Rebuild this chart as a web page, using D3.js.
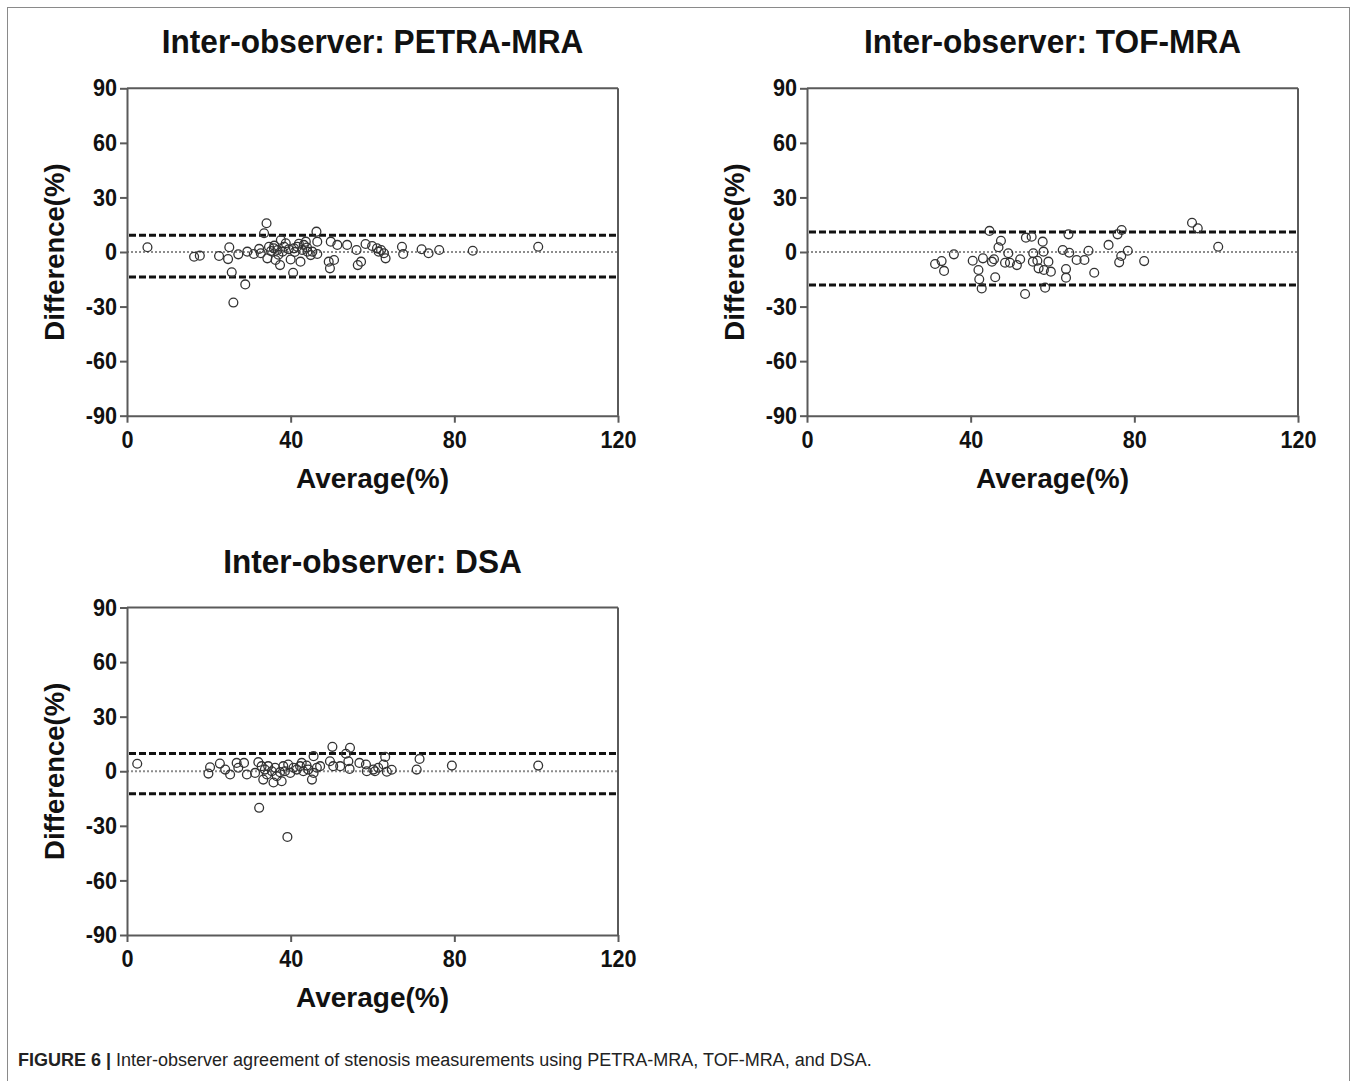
<!DOCTYPE html>
<html>
<head>
<meta charset="utf-8">
<script src="https://cdn.jsdelivr.net/npm/d3@7"></script>
<style>
  html,body{margin:0;padding:0;background:#fff;}
  svg{display:block;}
</style>
</head>
<body>
<svg id="chart" width="1357" height="1081"></svg>
<script>
// ---------------- DATA ----------------
const panelTitles = ["Inter-observer: PETRA-MRA", "Inter-observer: TOF-MRA", "Inter-observer: DSA"];
const xTicks = [0, 40, 80, 120];
const yTicks = [-90, -60, -30, 0, 30, 60, 90];
const xLabel = "Average(%)";
const yLabel = "Difference(%)";
const caption = ["FIGURE 6 |", " Inter-observer agreement of stenosis measurements using PETRA-MRA, TOF-MRA, and DSA."];

// limits of agreement (upper, lower) per panel
const biasUpper = [9.2, 11.0, 9.8];
const biasLower = [-13.8, -18.2, -12.3];

// [average, difference]
const petra = [
  [5.0,2.6],[16.4,-2.6],[17.8,-2.0],[22.5,-2.2],[25,2.6],[24.7,-3.9],[25.6,-11.2],[26,-27.8],
  [27.2,-1.3],[28.9,-17.8],[29.4,0.2],[31,-1.1],[32.3,1.7],[32.7,-0.7],[33.5,10.3],[34.1,15.8],
  [34.3,-3.5],[34.7,2.9],[35.2,0.5],[35.9,2.0],[36,3.5],[36.3,-4.4],[36.8,1.1],[37,-1.5],[37.4,-7.2],
  [37.6,6.6],[38,0.2],[38.4,2.9],[38.8,4.8],[39.5,1.5],[40,-4.1],[40.6,-11.4],[40.8,2.0],[41,0],
  [41.6,2.9],[42,4.5],[42.4,-5.3],[42.8,1.1],[43.2,3.9],[43.7,5.7],[44,2.5],[44.1,0.2],[44.9,-1.7],
  [45.3,0.2],[46.3,11.2],[46.5,5.7],[46.5,-1.1],[49.8,5.7],[49.3,-5.3],[49.6,-9.0],[50.6,-4.4],
  [51.4,3.9],[53.8,3.9],[56.1,1.1],[56.4,-7.2],[57.2,-5.3],[58.3,4.4],[59.9,3.3],[61.1,2.0],
  [61.5,0.2],[62.1,1.1],[62.8,-0.7],[63.2,-3.5],[67.2,2.9],[67.5,-1.1],[72,1.5],[73.7,-0.7],
  [76.3,1.1],[84.5,0.7],[100.5,2.9]
];
const tof = [
  [31.3,-6.6],[32.9,-5.0],[33.5,-10.4],[35.9,-1.3],[40.5,-4.8],[41.9,-9.9],[42.1,-15.0],[42.7,-20],
  [43,-3.5],[44.6,11.6],[45.2,-5.3],[45.7,-4.0],[46,-13.9],[46.8,2.6],[47.4,6.2],[48.4,-5.9],
  [49.2,-0.7],[49.6,-5.9],[51.3,-7.2],[52.1,-4.0],[53.3,-23.1],[53.5,7.9],[54.9,8.4],[55.2,-5.3],
  [55.3,-0.7],[56.3,-4.8],[56.6,-9.0],[57.6,5.7],[57.8,0.2],[57.9,-9.9],[58.2,-19.6],[59,-5.3],
  [59.6,-10.8],[62.5,1.1],[63.9,9.7],[64.1,-0.4],[63.3,-9.4],[63.3,-14.1],[65.9,-4.4],[67.8,-4.4],
  [68.8,0.7],[70.2,-11.4],[73.7,3.9],[75.9,9.7],[76.9,12.1],[76.3,-5.7],[76.8,-2.2],[78.4,0.7],
  [82.4,-5.0],[94.1,16.1],[95.5,13.0],[100.5,2.9]
];
const dsa = [
  [2.5,4.1],[19.9,-1.3],[20.3,2.2],[22.7,4.2],[24,0.9],[25.2,-1.8],[26.8,4.6],[27.2,1.9],[28.6,4.6],
  [29.3,-1.8],[31.3,-0.9],[32.1,5.0],[32.3,-20.1],[32.9,2.8],[33.3,-4.6],[33.7,0.9],[34.2,-1.8],
  [34.5,2.8],[35.4,0],[35.8,-6.2],[36.2,1.9],[36.6,-2.7],[37.4,-0.5],[37.8,-5.5],[38.2,2.8],[38.6,0],
  [39.2,-36.1],[39.4,3.7],[39.9,-0.9],[40.7,1.9],[41.5,0.9],[42.3,2.8],[42.7,4.6],[43.1,0],[43.9,3.1],
  [44.3,0.9],[45.2,-4.6],[45.6,8.3],[45.6,-0.9],[46.4,1.9],[47.2,2.8],[49.6,5.5],[50.2,13.4],
  [50.4,2.8],[52.1,2.8],[53.5,9.6],[54.1,5.5],[54.5,12.9],[54.4,1.3],[56.8,4.6],[58.4,3.7],[58.6,0],
  [60.2,0.9],[60.6,0],[61.4,1.9],[62.7,3.7],[63.1,7.9],[63.5,-0.3],[64.7,0.8],[70.8,0.9],[71.5,6.8],
  [79.4,3.1],[100.5,3.1]
];
const panelData = [petra, tof, dsa];

// ---------------- LAYOUT ----------------
const layout = [
  {x0:127, x1:618, y0:88.3, y1:415.7},
  {x0:807, x1:1298, y0:88.3, y1:415.7},
  {x0:127, x1:618, y0:607.5, y1:935}
];

const svg = d3.select("#chart");
const FONT = "'Liberation Sans', Arial, sans-serif";
const axisColor = "#5a5a5a";

// outer frame
svg.append("rect").attr("x",7.5).attr("y",7.5).attr("width",1342).attr("height",1090)
  .attr("fill","none").attr("stroke","#8a8a8a").attr("stroke-width",1);

panelTitles.forEach((title, i) => {
  const L = layout[i];
  const x = d3.scaleLinear().domain([0,120]).range([L.x0, L.x1]);
  const y = d3.scaleLinear().domain([-90,90]).range([L.y1, L.y0]);
  const g = svg.append("g");
  const cx = (L.x0+L.x1)/2;

  // title (slightly condensed, like the original)
  g.append("text").attr("transform",`translate(${cx},${L.y0-35}) scale(0.93,1)`)
    .attr("text-anchor","middle").attr("font-family",FONT).attr("font-weight","bold")
    .attr("font-size",34).attr("fill","#111").text(title);

  // zero line
  g.append("line").attr("x1",x(0)).attr("x2",x(120)).attr("y1",y(0)).attr("y2",y(0))
    .attr("stroke","#8c8c8c").attr("stroke-width",2).attr("stroke-dasharray","2,2");

  // limits of agreement
  [biasUpper[i], biasLower[i]].forEach(v => {
    g.append("line").attr("x1",x(0)+2).attr("x2",x(120)).attr("y1",y(v)).attr("y2",y(v))
      .attr("stroke","#111").attr("stroke-width",3).attr("stroke-dasharray","7,3");
  });

  // points
  g.append("g").selectAll("circle").data(panelData[i]).join("circle")
    .attr("cx",d=>x(d[0])).attr("cy",d=>y(d[1])).attr("r",4.4)
    .attr("fill","none").attr("stroke","#333").attr("stroke-width",1.3);

  // frame top/right
  g.append("line").attr("x1",x(0)).attr("x2",x(120)).attr("y1",y(90)).attr("y2",y(90))
    .attr("stroke",axisColor).attr("stroke-width",2);
  g.append("line").attr("x1",x(120)).attr("x2",x(120)).attr("y1",y(90)).attr("y2",y(-90))
    .attr("stroke",axisColor).attr("stroke-width",2);

  // axes
  const fmt = d => String(d);
  const ax = g.append("g").attr("transform",`translate(0,${L.y1})`)
    .call(d3.axisBottom(x).tickValues(xTicks).tickFormat(fmt).tickSize(7).tickPadding(8).tickSizeOuter(0));
  const ay = g.append("g").attr("transform",`translate(${L.x0},0)`)
    .call(d3.axisLeft(y).tickValues(yTicks).tickFormat(fmt).tickSize(7).tickPadding(3).tickSizeOuter(0));
  [ax, ay].forEach(a => {
    a.select(".domain").attr("stroke",axisColor).attr("stroke-width",2);
    a.selectAll(".tick line").attr("stroke",axisColor).attr("stroke-width",2);
    a.selectAll(".tick text").attr("font-family",FONT).attr("font-weight","bold")
      .attr("font-size",24).attr("fill","#111");
  });
  ax.selectAll(".tick text").attr("transform","scale(0.9,1)");
  ay.selectAll(".tick text").each(function(){
    const t = d3.select(this);
    const xx = +t.attr("x");
    t.attr("x", xx/0.9).attr("transform","scale(0.9,1)");
  });

  // axis titles
  g.append("text").attr("x",cx).attr("y",L.y1+72)
    .attr("text-anchor","middle").attr("font-family",FONT).attr("font-weight","bold")
    .attr("font-size",28).attr("fill","#111").text(xLabel);
  g.append("text").attr("transform",`translate(${L.x0-63},${(L.y0+L.y1)/2}) rotate(-90)`)
    .attr("text-anchor","middle").attr("font-family",FONT).attr("font-weight","bold")
    .attr("font-size",27.5).attr("fill","#111").text(yLabel);
});

// caption
const cap = svg.append("text").attr("x",18).attr("y",1066)
  .attr("font-family",FONT).attr("font-size",16).attr("fill","#222");
cap.append("tspan").attr("font-weight","bold").text(caption[0]);
cap.append("tspan").text(caption[1]);
const w = cap.node().getComputedTextLength();
const fs = Math.max(14, Math.min(18, 16 * 855 / w));
cap.attr("font-size", fs);
</script>
</body>
</html>
